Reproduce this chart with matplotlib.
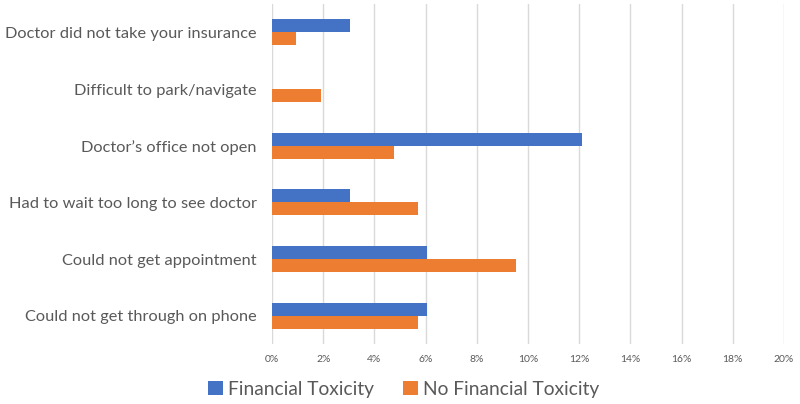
import numpy as np
from matplotlib import pyplot as plt
from matplotlib.ticker import FuncFormatter

# Данные (снизу вверх, как на оси)
categories = ['Could not get through on phone', 'Could not get appointment',
              'Had to wait too long to see doctor', 'Doctor\u2019s office not open',
              'Difficult to park/navigate', 'Doctor did not take your insurance']
financial_tox = [6.06, 6.06, 3.03, 12.12, 0.0, 3.03]
no_financial_tox = [5.71, 9.52, 5.71, 4.76, 1.90, 0.95]
x_ticks = [0, 2, 4, 6, 8, 10, 12, 14, 16, 18, 20]

plt.rcParams['font.family'] = ['Lato', 'DejaVu Sans']
text_color = '#595959'

fig = plt.figure(figsize=(8, 4.04), dpi=100)
ax = fig.add_axes([272 / 800, 1 - 344 / 404, 512 / 800, 340 / 404])

y = np.arange(len(categories))
h = 0.23
ax.barh(y + h / 2, financial_tox, height=h, color='#4472C4', label='Financial Toxicity', zorder=3)
ax.barh(y - h / 2, no_financial_tox, height=h, color='#ED7D31', label='No Financial Toxicity', zorder=3)

ax.set_xlim(0, 20)
ax.set_ylim(-0.5, len(categories) - 0.5)
ax.set_xticks(x_ticks)
ax.xaxis.set_major_formatter(FuncFormatter(lambda v, p: '%d%%' % v))
ax.set_yticks(y)
ax.set_yticklabels(categories, fontsize=11.8, color=text_color)
ax.tick_params(axis='x', labelsize=7.5, colors=text_color, length=0, pad=8)
ax.tick_params(axis='y', length=0, pad=11)
ax.grid(axis='x', color='#d9d9d9', linewidth=1, zorder=0)
for s in ax.spines.values():
    s.set_visible(False)

leg = fig.legend(loc='center', bbox_to_anchor=(0.505, 1 - 389 / 404), ncol=2, frameon=False,
                 fontsize=13.8, handlelength=0.75, handleheight=0.75, handletextpad=0.3,
                 columnspacing=1.5)
for t in leg.get_texts():
    t.set_color(text_color)

plt.savefig('out.png', dpi=100)
